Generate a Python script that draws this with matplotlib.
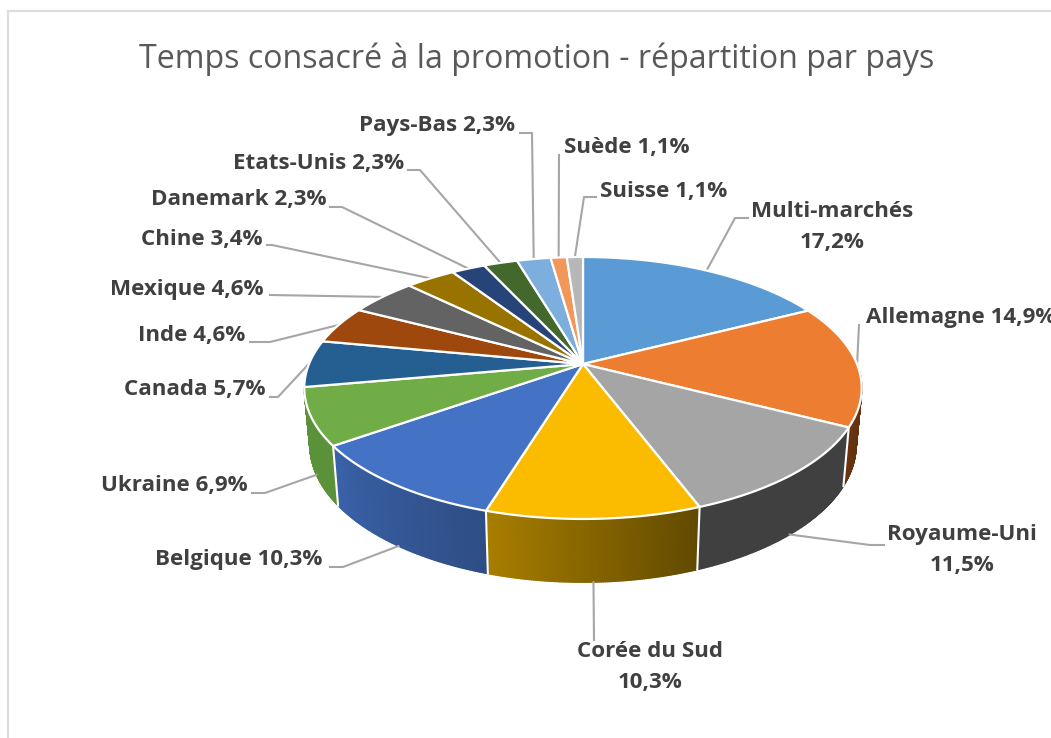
import numpy as np
import matplotlib
matplotlib.use('Agg')
import matplotlib.pyplot as plt
from matplotlib.colors import to_rgb
from matplotlib.patches import Polygon, Rectangle

plt.rcParams['font.family'] = ['Open Sans', 'DejaVu Sans']

# ── Données ─────────────────────────────────────────────
TITLE = 'Temps consacré à la promotion - répartition par pays'
pays = ['Multi-marchés', 'Allemagne', 'Royaume-Uni', 'Corée du Sud', 'Belgique',
        'Ukraine', 'Canada', 'Inde', 'Mexique', 'Chine', 'Danemark', 'Etats-Unis',
        'Pays-Bas', 'Suède', 'Suisse']
parts = [17.2, 14.9, 11.5, 10.3, 10.3, 6.9, 5.7, 4.6, 4.6, 3.4, 2.3, 2.3, 2.3, 1.1, 1.1]

top_colors = ['#5B9BD5', '#ED7D31', '#A5A5A5', '#FBBC00', '#4472C4', '#70AD47', '#255E91',
              '#9E480E', '#636363', '#997300', '#264478', '#43682B', '#7CAFDD', '#F1975A',
              '#B7B7B7']
# parois : couleur côté gauche / côté droit (dégradé)
side_colors = {
    1: ('#6A3310', '#5A2C0E'),
    2: ('#404040', '#404040'),
    3: ('#A87E00', '#614900'),
    4: ('#3A62A8', '#2E4D85'),
    5: ('#5B9239', '#5B9239'),
}

# ── Mise en page (pixels de la figure) ──────────────────
W, H = 1051, 738
CX, CY = 583, 364
A, B, K = 126.6, 274.0, 0.183   # projection du disque
BOT_X, BOT_Y, BOT_OFF = 0.98, 1.05, 55.5   # disque du bas

# centre du texte, passage à la ligne, coude(s) du trait de rappel, ancrage sur la paroi
label_xy = [(832, 227), (961, 318), (962, 550), (650, 667), (239, 559), (174, 486),
            (195, 390), (192, 336), (187, 289), (202, 240), (239, 200), (319, 164),
            (437, 126), (627, 147), (664, 191)]
two_lines = [0, 2, 3]
elbows = [[(735, 218), (748, 218)], [(859, 325)], [(870, 545), (884, 545)],
          [(594, 640)], [(343, 567), (330, 567)], [(265, 493), (252, 493)],
          [(278, 397), (270, 397)], [(270, 342), (250, 342)], [(270, 295)],
          [(272, 245), (267, 245)], [(342, 207), (330, 207)], [(420, 170), (408, 170)],
          [(532, 133), (520, 133)], [(559, 155)], [(584, 197), (596, 197)]]
on_wall = [2, 3, 4, 5]
LEADER = '#A6A6A6'


def project(theta, bottom=False):
    """Angle (horaire depuis le haut) vers pixels, avec perspective."""
    den = 1 + K * np.cos(theta)
    x = B * np.sin(theta) / den
    y = -A * np.cos(theta) / den
    if bottom:
        x, y = x * BOT_X, y * BOT_Y + BOT_OFF
    return CX + x, CY + y


fig = plt.figure(figsize=(W / 100, H / 100), dpi=100)
ax = fig.add_axes([0, 0, 1, 1])
ax.set_xlim(0, W)
ax.set_ylim(H, 0)
ax.axis('off')

ax.add_patch(Rectangle((8, 11), W + 20, H + 20, fc='white', ec='#DDDDDD', lw=1.6, zorder=0))

edges = np.cumsum([0] + parts) / sum(parts) * 2 * np.pi

# parois (dégradé par fines bandes)
for i, (c_l, c_r) in side_colors.items():
    t0 = max(edges[i], np.pi / 2)
    t1 = min(edges[i + 1], 1.5 * np.pi)
    ts = np.linspace(t0, t1, 100)
    tx, ty = project(ts)
    bx, by = project(ts, bottom=True)
    c_l, c_r = np.array(to_rgb(c_l)), np.array(to_rgb(c_r))
    for j in range(len(ts) - 1):
        # ts va de droite à gauche sur la face avant
        f = j / (len(ts) - 2)
        col = c_r * (1 - f) + c_l * f
        ax.add_patch(Polygon([(tx[j], ty[j]), (tx[j + 1], ty[j + 1]),
                              (bx[j + 1], by[j + 1]), (bx[j], by[j])],
                             fc=col, ec=col, lw=1.0, zorder=1))

# séparations blanches entre parois
for i in range(2, 6):
    p, q = project(edges[i]), project(edges[i], bottom=True)
    ax.plot([p[0], q[0]], [p[1], q[1]], color='white', lw=1.5, zorder=2)

# dessus du disque
for i, col in enumerate(top_colors):
    ts = np.linspace(edges[i], edges[i + 1], 80)
    x, y = project(ts)
    pts = np.column_stack([np.r_[CX, x], np.r_[CY, y]])
    ax.add_patch(Polygon(pts, closed=True, fc=col, ec='white', lw=1.6, joinstyle='round', zorder=3))

# traits de rappel et étiquettes
for i, name in enumerate(pays):
    mid = (edges[i] + edges[i + 1]) / 2
    start = project(mid, bottom=i in on_wall)
    xs = [start[0]] + [p[0] for p in elbows[i]]
    ys = [start[1]] + [p[1] for p in elbows[i]]
    ax.plot(xs, ys, color=LEADER, lw=1.5, zorder=2.5, solid_joinstyle='round')
    val = f'{parts[i]:.1f}'.replace('.', ',') + '%'
    sep = '\n' if i in two_lines else ' '
    ax.text(label_xy[i][0], label_xy[i][1], name + sep + val, ha='center', va='center',
            fontsize=16.1, fontweight='bold', color='#404040', linespacing=1.67, zorder=5)

ax.text(537, 59, TITLE, ha='center', va='center', fontsize=23.15, color='#595959', zorder=5)

fig.savefig('out.png', dpi=100)
plt.close(fig)
